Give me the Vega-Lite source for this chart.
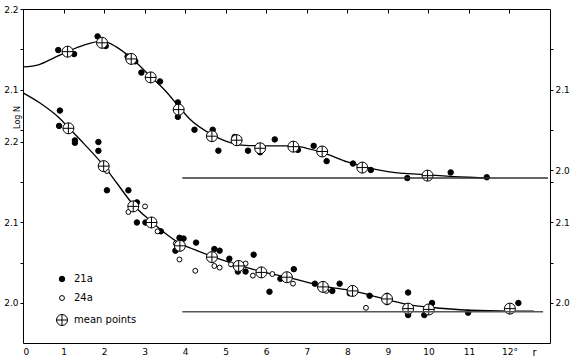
{
  "$schema": "https://vega.github.io/schema/vega-lite/v6.json",
  "width": 527,
  "height": 334,
  "autosize": {"type": "none"},
  "padding": {"left": 23, "top": 9, "right": 20, "bottom": 19},
  "background": "white",
  "config": {
    "view": {"stroke": "black", "strokeWidth": 1},
    "font": "DejaVu Sans",
    "axis": {"grid": false, "domain": false, "tickColor": "black", "labelColor": "black", "labelFont": "DejaVu Sans", "labelFontSize": 9, "tickSize": 3, "titleFont": "DejaVu Sans", "titleFontWeight": "normal", "titleColor": "black"},
    "legend": {"orient": "none", "legendX": 33, "legendY": 265, "padding": 0, "rowPadding": 9, "labelOffset": 6, "labelFontSize": 10, "labelFont": "DejaVu Sans", "labelColor": "black", "symbolStrokeWidth": 1}
  },
  "datasets": {
    "upperPts": [
      {"r": 0.87, "logN": 2.149, "type": "21a"}, {"r": 1.26, "logN": 2.144, "type": "21a"},
      {"r": 1.84, "logN": 2.166, "type": "21a"}, {"r": 2.04, "logN": 2.154, "type": "21a"},
      {"r": 2.58, "logN": 2.141, "type": "21a"}, {"r": 2.77, "logN": 2.135, "type": "21a"},
      {"r": 2.92, "logN": 2.121, "type": "21a"}, {"r": 3.38, "logN": 2.110, "type": "21a"},
      {"r": 3.82, "logN": 2.084, "type": "21a"}, {"r": 3.82, "logN": 2.066, "type": "21a"},
      {"r": 4.23, "logN": 2.050, "type": "21a"}, {"r": 4.68, "logN": 2.050, "type": "21a"},
      {"r": 4.82, "logN": 2.024, "type": "21a"}, {"r": 5.22, "logN": 2.041, "type": "21a"},
      {"r": 5.55, "logN": 2.024, "type": "21a"}, {"r": 5.85, "logN": 2.022, "type": "21a"},
      {"r": 6.21, "logN": 2.038, "type": "21a"}, {"r": 6.66, "logN": 2.032, "type": "21a"},
      {"r": 6.78, "logN": 2.025, "type": "21a"}, {"r": 7.17, "logN": 2.030, "type": "21a"},
      {"r": 7.49, "logN": 2.011, "type": "21a"}, {"r": 8.14, "logN": 2.008, "type": "21a"},
      {"r": 8.58, "logN": 2.000, "type": "21a"}, {"r": 9.48, "logN": 1.990, "type": "21a"},
      {"r": 10.55, "logN": 1.997, "type": "21a"}, {"r": 11.44, "logN": 1.991, "type": "21a"},
      {"r": 1.10, "logN": 2.147, "type": "mean points"}, {"r": 1.95, "logN": 2.158, "type": "mean points"},
      {"r": 2.67, "logN": 2.138, "type": "mean points"}, {"r": 3.15, "logN": 2.115, "type": "mean points"},
      {"r": 3.84, "logN": 2.075, "type": "mean points"}, {"r": 4.66, "logN": 2.042, "type": "mean points"},
      {"r": 5.27, "logN": 2.037, "type": "mean points"}, {"r": 5.85, "logN": 2.027, "type": "mean points"},
      {"r": 6.67, "logN": 2.029, "type": "mean points"}, {"r": 7.38, "logN": 2.023, "type": "mean points"},
      {"r": 8.37, "logN": 2.003, "type": "mean points"}, {"r": 9.98, "logN": 1.993, "type": "mean points"}
    ],
    "upperCurve": [
      {"r": 0, "logN": 2.128}, {"r": 0.4, "logN": 2.131}, {"r": 0.75, "logN": 2.139}, {"r": 1.1, "logN": 2.147},
      {"r": 1.5, "logN": 2.155}, {"r": 1.95, "logN": 2.160}, {"r": 2.3, "logN": 2.153}, {"r": 2.67, "logN": 2.139},
      {"r": 3.15, "logN": 2.116}, {"r": 3.5, "logN": 2.099}, {"r": 3.84, "logN": 2.079}, {"r": 4.1, "logN": 2.064},
      {"r": 4.66, "logN": 2.044}, {"r": 5.0, "logN": 2.036}, {"r": 5.4, "logN": 2.031}, {"r": 6.0, "logN": 2.030},
      {"r": 6.67, "logN": 2.030}, {"r": 7.0, "logN": 2.027}, {"r": 7.38, "logN": 2.022}, {"r": 8.0, "logN": 2.010},
      {"r": 8.5, "logN": 2.003}, {"r": 9.0, "logN": 1.998}, {"r": 10.0, "logN": 1.994}, {"r": 11.0, "logN": 1.991},
      {"r": 11.5, "logN": 1.990}
    ],
    "upperBase": [{"r": 3.93, "logN": 1.990}, {"r": 12.95, "logN": 1.990}],
    "lowerPts": [
      {"r": 0.91, "logN": 2.239, "type": "21a"}, {"r": 0.89, "logN": 2.220, "type": "21a"},
      {"r": 1.28, "logN": 2.202, "type": "21a"}, {"r": 1.28, "logN": 2.199, "type": "21a"},
      {"r": 1.86, "logN": 2.200, "type": "21a"}, {"r": 1.86, "logN": 2.189, "type": "21a"},
      {"r": 2.07, "logN": 2.140, "type": "21a"}, {"r": 2.60, "logN": 2.140, "type": "21a"},
      {"r": 2.81, "logN": 2.125, "type": "21a"}, {"r": 2.81, "logN": 2.100, "type": "21a"},
      {"r": 3.02, "logN": 2.100, "type": "21a"}, {"r": 3.40, "logN": 2.089, "type": "21a"},
      {"r": 3.86, "logN": 2.081, "type": "21a"}, {"r": 3.96, "logN": 2.080, "type": "21a"},
      {"r": 4.27, "logN": 2.075, "type": "21a"}, {"r": 3.76, "logN": 2.065, "type": "21a"},
      {"r": 4.72, "logN": 2.067, "type": "21a"}, {"r": 4.85, "logN": 2.065, "type": "21a"},
      {"r": 5.09, "logN": 2.055, "type": "21a"}, {"r": 5.30, "logN": 2.039, "type": "21a"},
      {"r": 5.49, "logN": 2.039, "type": "21a"}, {"r": 5.69, "logN": 2.060, "type": "21a"},
      {"r": 6.08, "logN": 2.014, "type": "21a"}, {"r": 6.35, "logN": 2.030, "type": "21a"},
      {"r": 6.68, "logN": 2.042, "type": "21a"}, {"r": 7.20, "logN": 2.024, "type": "21a"},
      {"r": 7.63, "logN": 2.015, "type": "21a"}, {"r": 7.81, "logN": 2.024, "type": "21a"},
      {"r": 8.06, "logN": 2.012, "type": "21a"}, {"r": 8.55, "logN": 2.009, "type": "21a"},
      {"r": 8.98, "logN": 2.009, "type": "21a"}, {"r": 8.98, "logN": 2.001, "type": "21a"},
      {"r": 9.50, "logN": 2.013, "type": "21a"}, {"r": 9.50, "logN": 1.985, "type": "21a"},
      {"r": 9.90, "logN": 1.985, "type": "21a"}, {"r": 10.09, "logN": 2.000, "type": "21a"},
      {"r": 10.98, "logN": 1.988, "type": "21a"}, {"r": 12.22, "logN": 2.000, "type": "21a"},
      {"r": 2.07, "logN": 2.164, "type": "24a"}, {"r": 2.60, "logN": 2.113, "type": "24a"},
      {"r": 3.01, "logN": 2.120, "type": "24a"}, {"r": 3.32, "logN": 2.089, "type": "24a"},
      {"r": 3.77, "logN": 2.074, "type": "24a"}, {"r": 3.86, "logN": 2.054, "type": "24a"},
      {"r": 4.25, "logN": 2.040, "type": "24a"}, {"r": 4.72, "logN": 2.046, "type": "24a"},
      {"r": 4.85, "logN": 2.044, "type": "24a"}, {"r": 5.13, "logN": 2.048, "type": "24a"},
      {"r": 5.49, "logN": 2.049, "type": "24a"}, {"r": 5.67, "logN": 2.034, "type": "24a"},
      {"r": 6.15, "logN": 2.036, "type": "24a"}, {"r": 6.66, "logN": 2.024, "type": "24a"},
      {"r": 7.48, "logN": 2.015, "type": "24a"}, {"r": 8.46, "logN": 1.994, "type": "24a"},
      {"r": 1.12, "logN": 2.217, "type": "mean points"}, {"r": 1.99, "logN": 2.170, "type": "mean points"},
      {"r": 2.72, "logN": 2.120, "type": "mean points"}, {"r": 3.17, "logN": 2.100, "type": "mean points"},
      {"r": 3.87, "logN": 2.071, "type": "mean points"}, {"r": 4.66, "logN": 2.057, "type": "mean points"},
      {"r": 5.32, "logN": 2.046, "type": "mean points"}, {"r": 5.88, "logN": 2.038, "type": "mean points"},
      {"r": 6.51, "logN": 2.032, "type": "mean points"}, {"r": 7.40, "logN": 2.020, "type": "mean points"},
      {"r": 8.13, "logN": 2.015, "type": "mean points"}, {"r": 8.98, "logN": 2.005, "type": "mean points"},
      {"r": 9.50, "logN": 1.993, "type": "mean points"}, {"r": 10.01, "logN": 1.992, "type": "mean points"},
      {"r": 12.01, "logN": 1.993, "type": "mean points"}
    ],
    "lowerCurve": [
      {"r": 0, "logN": 2.261}, {"r": 0.4, "logN": 2.249}, {"r": 0.89, "logN": 2.230}, {"r": 1.12, "logN": 2.218},
      {"r": 1.5, "logN": 2.198}, {"r": 2.0, "logN": 2.170}, {"r": 2.3, "logN": 2.150}, {"r": 2.72, "logN": 2.122},
      {"r": 3.17, "logN": 2.101}, {"r": 3.5, "logN": 2.087}, {"r": 3.87, "logN": 2.074}, {"r": 4.2, "logN": 2.067},
      {"r": 4.66, "logN": 2.058}, {"r": 5.32, "logN": 2.047}, {"r": 5.88, "logN": 2.039}, {"r": 6.51, "logN": 2.032},
      {"r": 7.4, "logN": 2.021}, {"r": 8.13, "logN": 2.015}, {"r": 9.0, "logN": 2.004}, {"r": 9.5, "logN": 1.998},
      {"r": 10.0, "logN": 1.995}, {"r": 11.0, "logN": 1.991}, {"r": 12.0, "logN": 1.990}, {"r": 12.6, "logN": 1.990}
    ],
    "lowerBase": [{"r": 3.93, "logN": 1.989}, {"r": 12.83, "logN": 1.989}]
  },
  "layer": [
    {
      "encoding": {
        "x": {"field": "r", "type": "quantitative", "scale": {"domain": [0, 13], "nice": false, "zero": false},
          "axis": {"orient": "bottom", "values": [0,1,2,3,4,5,6,7,8,9,10,11,12], "ticks": false, "labelPadding": 4, "labelExpr": "datum.value == 12 ? '12°' : datum.label", "title": "r", "titleX": 511, "titleY": 9, "titleBaseline": "middle", "titleFontSize": 10}},
        "y": {"field": "logN", "type": "quantitative", "scale": {"domain": [1.7851, 2.2], "nice": false, "zero": false},
          "axis": {"orient": "left", "values": [2.05, 2.1, 2.15, 2.2], "labelExpr": "round(datum.value*100) % 10 == 0 ? format(datum.value, '.1f') : ''", "title": null}}
      },
      "layer": [
        {"data": {"name": "upperCurve"}, "mark": {"type": "line", "interpolate": "monotone", "color": "black", "strokeWidth": 1.3}},
        {"data": {"name": "upperPts"}, "mark": {"type": "point", "strokeWidth": 1, "opacity": 1},
          "encoding": {
            "shape": {"field": "type", "type": "nominal", "scale": {"domain": ["21a", "24a", "mean points"], "range": ["circle", "circle", "M-1,0A1,1 0 1,0 1,0A1,1 0 1,0 -1,0ZM-1,0L1,0M0,-1L0,1"]}, "legend": {"title": null}},
            "fill": {"field": "type", "type": "nominal", "scale": {"domain": ["21a", "24a", "mean points"], "range": ["black", "white", "white"]}, "legend": {"title": null}},
            "stroke": {"field": "type", "type": "nominal", "scale": {"domain": ["21a", "24a", "mean points"], "range": ["black", "black", "black"]}, "legend": {"title": null}},
            "size": {"field": "type", "type": "nominal", "scale": {"type": "ordinal", "domain": ["21a", "24a", "mean points"], "range": [30, 24, 121]}, "legend": {"title": null}}
          }},
        {"data": {"values": [{}]}, "mark": {"type": "text", "align": "left", "baseline": "middle", "fontSize": 10, "font": "DejaVu Sans", "color": "black"},
          "encoding": {"x": {"datum": 8.12, "type": "quantitative"}, "y": {"datum": 2.155, "type": "quantitative"}, "text": {"value": "From C"}}}
      ]
    },
    {
      "data": {"name": "upperBase"},
      "mark": {"type": "line", "color": "#333", "strokeWidth": 1.5},
      "encoding": {
        "x": {"field": "r", "type": "quantitative", "axis": {"orient": "top", "values": [1,2,3,4,5,6,7,8,9,10,11,12], "labels": false, "tickSize": -4, "title": null}},
        "y": {"field": "logN", "type": "quantitative", "scale": {"domain": [1.7851, 2.2], "nice": false, "zero": false},
          "axis": {"orient": "right", "values": [2.0, 2.05, 2.1, 2.15], "labelExpr": "round(datum.value*100) % 10 == 0 ? format(datum.value, '.1f') : ''", "title": null}}
      }
    },
    {
      "encoding": {
        "x": {"field": "r", "type": "quantitative", "axis": null},
        "y": {"field": "logN", "type": "quantitative", "scale": {"domain": [1.9503, 2.3652], "nice": false, "zero": false},
          "axis": {"orient": "left", "values": [2.0, 2.05, 2.1, 2.15, 2.2], "labelExpr": "round(datum.value*100) % 10 == 0 ? format(datum.value, '.1f') : ''", "title": "Log N", "titleX": -2, "titleY": 108, "titleFontSize": 8, "titleAngle": -90, "titleBaseline": "bottom", "titleAlign": "center"}}
      },
      "layer": [
        {"data": {"name": "lowerCurve"}, "mark": {"type": "line", "interpolate": "monotone", "color": "black", "strokeWidth": 1.3}},
        {"data": {"name": "lowerPts"}, "mark": {"type": "point", "strokeWidth": 1, "opacity": 1},
          "encoding": {
            "shape": {"field": "type", "type": "nominal", "scale": {"domain": ["21a", "24a", "mean points"], "range": ["circle", "circle", "M-1,0A1,1 0 1,0 1,0A1,1 0 1,0 -1,0ZM-1,0L1,0M0,-1L0,1"]}, "legend": {"title": null}},
            "fill": {"field": "type", "type": "nominal", "scale": {"domain": ["21a", "24a", "mean points"], "range": ["black", "white", "white"]}, "legend": {"title": null}},
            "stroke": {"field": "type", "type": "nominal", "scale": {"domain": ["21a", "24a", "mean points"], "range": ["black", "black", "black"]}, "legend": {"title": null}},
            "size": {"field": "type", "type": "nominal", "scale": {"type": "ordinal", "domain": ["21a", "24a", "mean points"], "range": [30, 24, 121]}, "legend": {"title": null}}
          }},
        {"data": {"values": [{}]}, "mark": {"type": "text", "align": "left", "baseline": "middle", "fontSize": 10, "font": "DejaVu Sans", "color": "black"},
          "encoding": {"x": {"datum": 8.07, "type": "quantitative"}, "y": {"datum": 2.104, "type": "quantitative"}, "text": {"value": "From C′"}}}
      ]
    },
    {
      "data": {"name": "lowerBase"},
      "mark": {"type": "line", "color": "#555", "strokeWidth": 1.5},
      "encoding": {
        "x": {"field": "r", "type": "quantitative", "axis": null},
        "y": {"field": "logN", "type": "quantitative", "scale": {"domain": [1.9503, 2.3652], "nice": false, "zero": false},
          "axis": {"orient": "right", "values": [2.0, 2.05, 2.1, 2.15], "labelExpr": "round(datum.value*100) % 10 == 0 ? format(datum.value, '.1f') : ''", "title": null}}
      }
    }
  ],
  "resolve": {"scale": {"y": "independent"}, "axis": {"y": "independent", "x": "independent"}}
}
